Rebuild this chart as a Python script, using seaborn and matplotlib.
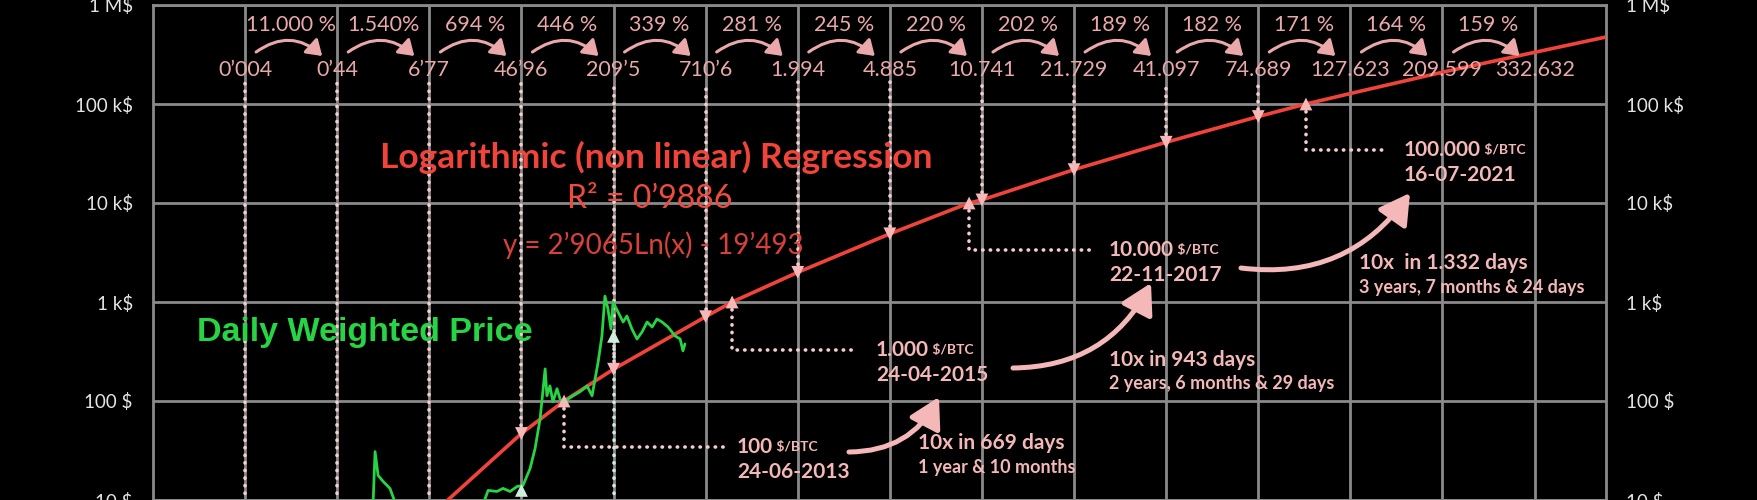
import matplotlib.pyplot as plt
import seaborn as sns
from matplotlib.ticker import NullLocator

# x axis = days since the genesis block (3 Jan 2009), one grid line per year
years = list(range(1, 16))
trend_labels = ["0’004", "0’44", "6’77", "46’96", "209’5", "710’6", "1.994", "4.885",
                "10.741", "21.729", "41.097", "74.689", "127.623", "209.599", "332.632"]
trend_values = [0.004, 0.44, 6.77, 46.96, 209.5, 710.6, 1994, 4885,
                10741, 21729, 41097, 74689, 127623, 209599, 332632]
growth_labels = ["11.000 %", "1.540%", "694 %", "446 %", "339 %", "281 %", "245 %",
                 "220 %", "202 %", "189 %", "182 %", "171 %", "164 %", "159 %"]

# points where the regression crosses each 10x level
milestone_days = [1629, 2295, 3234, 4569]
milestone_prices = [100, 1000, 10000, 100000]
milestone_titles = ["100", "1.000", "10.000", "100.000"]
milestone_dates = ["24-06-2013", "24-04-2015", "22-11-2017", "16-07-2021"]
step_titles = ["10x in 669 days", "10x in 943 days", "10x  in 1.332 days"]
step_details = ["1 year & 10 months", "2 years, 6 months & 29 days",
                "3 years, 7 months & 24 days"]

# regression line: yearly values + the 10x crossings + right edge
reg_days = [365, 730, 1095, 1460, 1629, 1825, 2190, 2295, 2555, 2920, 3234, 3285,
            3650, 4015, 4380, 4569, 4745, 5110, 5475, 5758]
reg_values = [0.004, 0.44, 6.77, 46.96, 100, 209.5, 710.6, 1000, 1994, 4885, 10000,
              10741, 21729, 41097, 74689, 100000, 127623, 209599, 332632, 475000]

# daily weighted price
price_days = [560, 872, 880, 892, 912, 939, 959, 990, 1300, 1316, 1328, 1363, 1387,
              1415, 1443, 1466, 1494, 1514, 1534, 1554, 1561, 1573, 1585, 1601, 1613,
              1633, 1645, 1664, 1692, 1720, 1740, 1752, 1764, 1779, 1791, 1803, 1815,
              1823, 1843, 1863, 1878, 1898, 1918, 1938, 1958, 1978, 1997, 2017, 2041,
              2069, 2089, 2100, 2108]
price_values = [0.06, 9, 30.8, 17.7, 15.4, 13.1, 9.5, 5, 7, 10.3, 12.5, 12.2, 13.1,
                12.2, 13.7, 14.0, 20.7, 33, 66, 211, 113, 142, 98, 133, 105,
                89.5, 105, 113, 124, 142, 113, 168, 248, 454, 1146, 849, 533,
                998, 791, 628, 721, 533, 423, 498, 628, 559, 673, 628, 559,
                454, 423, 321, 377]

# price reached at the start of year 4 and year 5
mint_days = [1460, 1825]
mint_values = [12.5, 450]

BG = "black"
GRID = "#8a8a8a"
PINK = "#f5b8b8"
DOT = "#f6cccc"
TOP_PINK = "#eaa8aa"
RED = "#f0443a"
GREEN = "#26d444"
MINT = "#cdeedd"

W, H = 1758, 500
L, R = 153, 1606
XMAX = 5758


def dx(px):
    return (px - L) / (R - L) * XMAX


def dy(py):
    return 10 ** (1 + (500 - py) / 495 * 5)


sns.set_style("dark")
plt.rcParams["font.family"] = ["Lato", "DejaVu Sans"]

fig = plt.figure(figsize=(W / 100, H / 100), dpi=100, facecolor=BG)
ax = fig.add_axes([L / W, 0, (R - L) / W, 495 / H])
ax.set_facecolor(BG)
ax.set_yscale("log")
ax.set_xlim(0, XMAX)
ax.set_ylim(10, 1e6)

ax.set_xticks([365 * k for k in years])
ax.set_yticks([10, 100, 1e3, 1e4, 1e5, 1e6])
ax.set_yticklabels(["10 $", "100 $", "1 k$", "10 k$", "100 k$", "1 M$"])
ax.yaxis.set_minor_locator(NullLocator())
ax.tick_params(axis="x", bottom=False, labelbottom=False)
ax.tick_params(axis="y", left=False, right=False, labelleft=True, labelright=True,
               labelsize=13.5, labelcolor="#e4e4e4", pad=11)
ax.grid(True, color=GRID, lw=2)
ax.set_axisbelow(True)
for s in ax.spines.values():
    s.set_color(GRID)
    s.set_linewidth(2)

dots = (0.1, 2.0)

# vertical dotted guides from the yearly labels down to the trend
for k, v in zip(years[:12], trend_values[:12]):
    ax.plot([365 * k, 365 * k], [max(v, 1), dy(82)], color=DOT, lw=2.6,
            dashes=dots, dash_capstyle="round", zorder=2)

# green guides from the bottom up to the price
for d, v in zip(mint_days, mint_values):
    ax.plot([d, d], [1, v], color=MINT, lw=2.6, dashes=dots,
            dash_capstyle="round", zorder=2)

# milestone guides
corner_y = [447, 350, 250, 150]
guide_end_x = [730, 856, 1094, 1386]
text_x = [737, 876, 1109, 1404]
for d, p, cy, ex in zip(milestone_days, milestone_prices, corner_y, guide_end_x):
    ax.plot([d, d, dx(ex)], [p, dy(cy), dy(cy)], color=DOT, lw=2.6,
            dashes=dots, dash_capstyle="round", zorder=2)

sns.lineplot(x=reg_days, y=reg_values, ax=ax, color=RED, lw=2.6, sort=False, zorder=3)
sns.lineplot(x=price_days, y=price_values, ax=ax, color=GREEN, lw=2, sort=False, zorder=4)

sns.scatterplot(x=[365 * k for k in years[3:12]], y=trend_values[3:12], ax=ax,
                marker="v", s=85, color=PINK, edgecolor="none", zorder=5)
sns.scatterplot(x=milestone_days, y=milestone_prices, ax=ax,
                marker="^", s=85, color=PINK, edgecolor="none", zorder=5)
sns.scatterplot(x=mint_days, y=mint_values, ax=ax,
                marker="^", s=85, color=MINT, edgecolor="none", zorder=5)

# top row: trend value per year and growth between years
for k, lab in zip(years, trend_labels):
    ax.text(365 * k, dy(70), lab, color=TOP_PINK, fontsize=15.5,
            ha="center", va="center", zorder=6)
for k, lab in zip(years[:-1], growth_labels):
    ax.text(365 * (k + 0.5), dy(25), lab, color=TOP_PINK, fontsize=15.5,
            ha="center", va="center", zorder=6)
    x0 = L + (R - L) * 365 * k / XMAX
    x1 = L + (R - L) * 365 * (k + 1) / XMAX
    ax.annotate("", xy=(dx(x1 - 15), dy(56)), xytext=(dx(x0 + 11), dy(52)),
                arrowprops=dict(arrowstyle="-|>,head_length=0.6,head_width=0.4",
                                connectionstyle="arc3,rad=-0.4", color=TOP_PINK,
                                lw=2.2, shrinkA=0, shrinkB=0, mutation_scale=15),
                zorder=6)

# milestone labels
for tx, cy, title, date in zip(text_x, corner_y, milestone_titles, milestone_dates):
    t = ax.text(dx(tx), dy(cy), title, color=PINK, fontsize=15, fontweight="bold",
                ha="left", va="center", zorder=6)
    ax.annotate(" $/BTC", xy=(1, 0.18), xycoords=t, color=PINK, fontsize=10,
                fontweight="bold", ha="left", va="bottom")
    ax.text(dx(tx), dy(cy + 25), date, color=PINK, fontsize=15, fontweight="bold",
            ha="left", va="center", zorder=6)

# 10x steps
arrow_start = [(849, 452), (1013, 368), (1241, 268)]
arrow_end = [(939, 397), (1151, 283), (1410, 193)]
step_pos = [(918, 443), (1109, 360), (1359, 263)]
for (sx, sy), (ex, ey), (tx, ty), title, detail in zip(arrow_start, arrow_end, step_pos,
                                                       step_titles, step_details):
    ax.annotate("", xy=(dx(ex), dy(ey)), xytext=(dx(sx), dy(sy)),
                arrowprops=dict(arrowstyle="-|>,head_length=0.7,head_width=0.4",
                                connectionstyle="arc3,rad=0.3", color=PINK, lw=3.6,
                                shrinkA=0, shrinkB=0, mutation_scale=26), zorder=6)
    ax.text(dx(tx), dy(ty), title, color=PINK, fontsize=15, fontweight="bold",
            ha="left", va="center", zorder=6)
    ax.text(dx(tx), dy(ty + 24), detail, color=PINK, fontsize=13, fontweight="bold",
            ha="left", va="center", zorder=6)

# titles
ax.text(dx(656), dy(157), "Logarithmic (non linear) Regression", color=RED,
        fontsize=25.5, fontweight="bold", ha="center", va="center", zorder=6)
ax.text(dx(650), dy(199), "R² = 0’9886", color="#ee4a40", fontsize=23,
        ha="center", va="center", zorder=6)
ax.text(dx(653), dy(245), "y = 2’9065Ln(x) - 19’493", color="#d9403a", fontsize=20,
        ha="center", va="center", zorder=6)
ax.text(dx(197), dy(332), "Daily Weighted Price", color=GREEN, fontsize=24.5,
        fontweight="bold", family=["Liberation Sans", "DejaVu Sans"],
        ha="left", va="center", zorder=6)

fig.savefig("out.png", dpi=100, facecolor=BG)
